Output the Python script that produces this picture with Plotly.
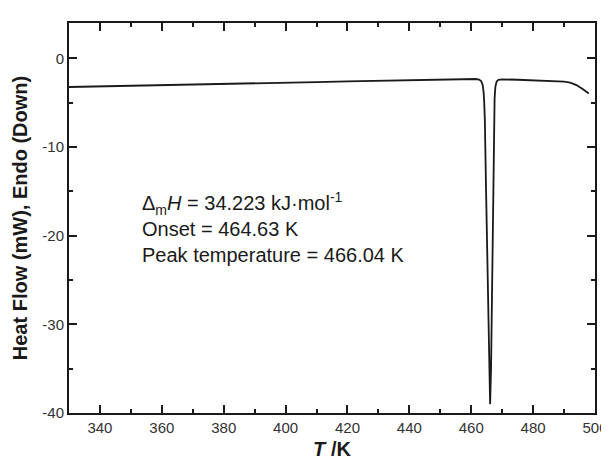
import plotly.graph_objects as go

# Data
temperature_K = [330, 340, 350, 360, 370, 380, 390, 400, 410, 420, 430, 440, 450, 455, 460,
                 461.5, 462.5, 463.2, 463.7, 464.0, 464.2, 464.4, 464.8, 465.3, 465.8, 466.1,
                 466.4, 466.8, 467.1, 467.35, 467.55, 467.8, 468.2, 468.8, 470,
                 475, 480, 485, 490, 492, 494, 496, 498]
heat_flow_mW = [-3.22, -3.16, -3.09, -3.02, -2.95, -2.88, -2.81, -2.74, -2.66, -2.58, -2.5, -2.42, -2.36, -2.33, -2.31,
                -2.32, -2.38, -2.55, -3.0, -3.8, -5.0, -7.0, -15.0, -25.0, -35.0, -39.0,
                -35.0, -25.0, -15.0, -7.0, -4.5, -3.2, -2.6, -2.42, -2.36,
                -2.4, -2.45, -2.52, -2.62, -2.72, -3.0, -3.45, -3.95]

y_tick_labels = ["0", "-10", "-20", "-30", "-40"]

annotation_lines = [
    "Δ<sub>m</sub><i>H</i> = 34.223 kJ·mol<sup>-1</sup>",
    "Onset = 464.63 K",
    "Peak temperature = 466.04 K",
]

font_family = "Liberation Sans, Arial, sans-serif"
ink = "#1a1a1a"

# the page body has an 8 px default margin, so the figure is drawn 8 px in
PAGE_OFFSET = 8

fig = go.Figure()
fig.add_trace(go.Scatter(
    x=temperature_K, y=heat_flow_mW, mode="lines",
    line=dict(color=ink, width=1.8),
    showlegend=False, hoverinfo="skip",
))

fig.add_annotation(
    x=353.1, y=-19.05, xref="x", yref="y",
    text="<br>".join(annotation_lines),
    showarrow=False, xanchor="left", yanchor="middle", align="left",
    font=dict(family=font_family, size=20, color=ink),
)

axis_common = dict(
    showline=True, linecolor=ink, linewidth=2, mirror="allticks",
    ticks="inside", tickcolor=ink, tickwidth=2, ticklen=8,
    showgrid=False, zeroline=False, automargin=False,
    tickfont=dict(family=font_family, size=15, color="#333333"),
)

fig.update_xaxes(
    range=[330, 500], tickmode="linear", tick0=340, dtick=20,
    minor=dict(dtick=10, ticks="inside", ticklen=4, tickwidth=2, tickcolor=ink),
    title=dict(text="<b><i>T</i> /K</b>", font=dict(family=font_family, size=20, color=ink), standoff=7),
    **axis_common,
)
fig.update_yaxes(
    range=[-40, 4], tickmode="linear", tick0=0, dtick=10,
    labelalias={lab.replace("-", "\u2212"): lab for lab in y_tick_labels if lab.startswith("-")},
    minor=dict(dtick=5, ticks="inside", ticklen=4, tickwidth=2, tickcolor=ink),
    title=dict(text="<b>Heat Flow (mW), Endo (Down)</b>", font=dict(family=font_family, size=20, color=ink), standoff=9),
    **axis_common,
)

fig.update_layout(
    width=609 - PAGE_OFFSET, height=460 - PAGE_OFFSET,
    margin=dict(l=69 - PAGE_OFFSET, r=14, t=23 - PAGE_OFFSET, b=47, pad=0),
    paper_bgcolor="white", plot_bgcolor="white",
)

fig.write_html("out.html")
